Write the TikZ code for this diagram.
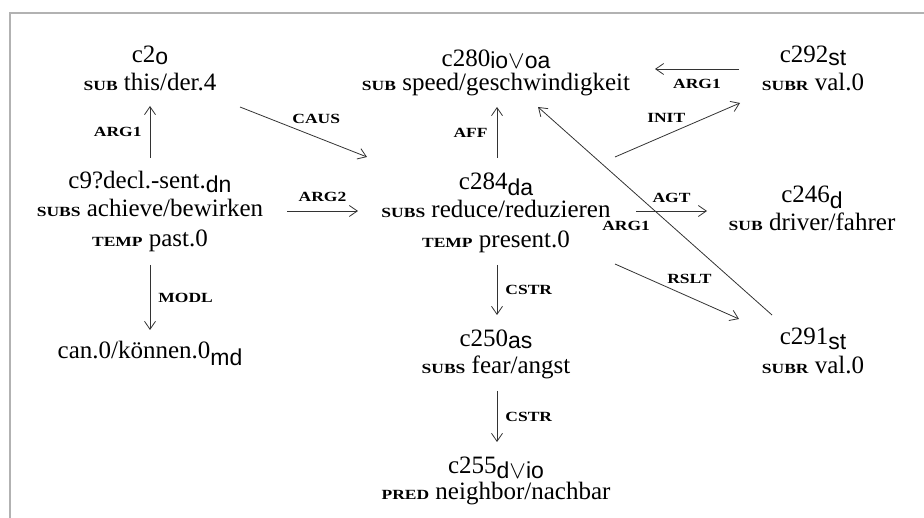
\documentclass[tikz,border=0pt]{standalone}
\usepackage{fontspec}
\setmainfont{Liberation Serif}
\newfontfamily\subfont{Liberation Sans}
\usetikzlibrary{arrows.meta}
\newcommand\attr[1]{\scalebox{1.25}[1]{\fontsize{14}{14}\selectfont\bfseries #1}}
\newcommand\ix[2][4pt]{\raisebox{-#1}{\fontsize{23}{23}\subfont #2}}
\tikzset{
  concept/.style={font=\fontsize{25}{28}\selectfont, align=center, inner sep=0pt, anchor=base},
  rel/.style={draw=black!80, line width=0.8pt, -{Straight Barb[length=8pt,width=11pt]}},
  lbl/.style={inner sep=0pt}
}
\begin{document}
\begin{tikzpicture}[x=1pt,y=-1pt]
 \useasboundingbox (0,0) rectangle (924,518);
 \draw[gray!60,line width=1.2pt] (924,13) -- (10,13) -- (10,518);
 % concepts (base = last line)
 \node[concept] (c2) at (150,91) {c2\ix[2pt]{o}\\\attr{SUB} this/der.4};
 \node[concept] (c9) at (150,247) {c9?decl.-sent.\ix{dn}\\\attr{SUBS} achieve/bewirken\\[2pt]\attr{TEMP} past.0};
 \node[concept] (md) at (150,359) {can.0/können.0\ix[7pt]{md}};
 \node[concept] (c280) at (496,91) {c280\ix[2pt]{io$\vee$oa}\\[-4pt]\attr{SUB} speed/geschwindigkeit};
 \node[concept] (c284) at (496,248) {c284\ix[6pt]{da}\\\attr{SUBS} reduce/reduzieren\\[2pt]\attr{TEMP} present.0};
 \node[concept] (c292) at (813,91) {c292\ix[3pt]{st}\\\attr{SUBR} val.0};
 \node[concept] (c246) at (812,231) {c246\ix[6pt]{d}\\\attr{SUB} driver/fahrer};
 \node[concept] (c291) at (813,374) {c291\ix[5pt]{st}\\[1pt]\attr{SUBR} val.0};
 \node[concept] (c250) at (496,374) {c250\ix[2pt]{as}\\[-1pt]\attr{SUBS} fear/angst};
 \node[concept] (c255) at (496,500) {c255\ix[6pt]{d$\vee$io}\\[-1pt]\attr{PRED} neighbor/nachbar};
 % relations
 \draw[rel] ([shift={(0,-89)}]c9.base) -- ([shift={(0,15)}]c2.base)
   node[lbl,midway,left=8pt] {\attr{ARG1}};
 \draw[rel] ([shift={(0,18)}]c9.base) -- ([shift={(0,-29)}]md.base)
   node[lbl,midway,right=8pt] {\attr{MODL}};
 \draw[rel] ([shift={(90,16)}]c2.base) -- ([shift={(-129,-91)}]c284.base)
   node[lbl,pos=0.6,above=13pt] {\attr{CAUS}};
 \draw[rel] ([shift={(137,-36)}]c9.base) -- ([shift={(-138,-37)}]c284.base)
   node[lbl,midway,above=9pt] {\attr{ARG2}};
 \draw[rel] ([shift={(1,-90)}]c284.base) -- ([shift={(1,16)}]c280.base)
   node[lbl,midway,left=9pt] {\attr{AFF}};
 \draw[rel] ([shift={(119,-91)}]c284.base) -- ([shift={(-73,12)}]c292.base)
   node[lbl,pos=0.41,above=12pt] {\attr{INIT}};
 \draw[rel] ([shift={(140,-37)}]c284.base) -- ([shift={(-105,-20)}]c246.base)
   node[lbl,midway,above=8pt] {\attr{AGT}};
 \draw[rel] ([shift={(119,16)}]c284.base) -- ([shift={(-74,-55)}]c291.base)
   node[lbl,pos=0.6,above=13pt] {\attr{RSLT}};
 \draw[rel] ([shift={(-41,-59)}]c291.base) -- ([shift={(42,16)}]c280.base)
   node[lbl,pos=0.43,left=21pt] {\attr{ARG1}};
 \draw[rel] ([shift={(-74,-22)}]c292.base) -- ([shift={(159,-22)}]c280.base)
   node[lbl,midway,below=10pt] {\attr{ARG1}};
 \draw[rel] ([shift={(1,17)}]c284.base) -- ([shift={(1,-59)}]c250.base)
   node[lbl,midway,right=8pt] {\attr{CSTR}};
 \draw[rel] ([shift={(1,17)}]c250.base) -- ([shift={(1,-58)}]c255.base)
   node[lbl,midway,right=8pt] {\attr{CSTR}};
\end{tikzpicture}
\end{document}
